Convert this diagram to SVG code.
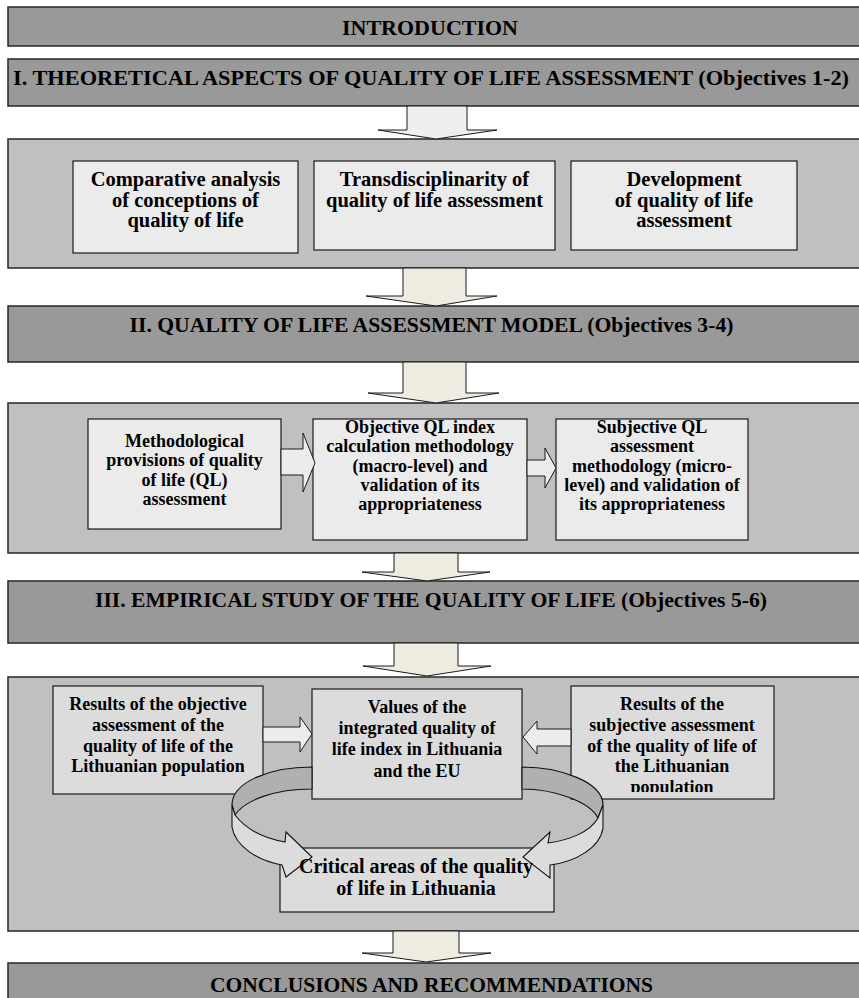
<svg xmlns="http://www.w3.org/2000/svg" width="859" height="998" viewBox="0 0 859 998">
<style>
.hdr{fill:#999999;stroke:#262626;stroke-width:1.5}
.panel{fill:#c0c0c0;stroke:#262626;stroke-width:1.5}
.b1{fill:#ebebeb;stroke:#1a1a1a;stroke-width:1.2}
.b3{fill:#dcdcdc;stroke:#1a1a1a;stroke-width:1.2}
.big{fill:#eeece1;stroke:#1a1a1a;stroke-width:1}
.sm{fill:#ececec;stroke:#1a1a1a;stroke-width:1}
.rd{fill:#b0b0b0;stroke:#111;stroke-width:1.1}
.rl{fill:#dcdcdc;stroke:#111;stroke-width:1.1}
.t{font-family:"Liberation Serif","Times New Roman",serif;font-weight:bold;fill:#000;text-anchor:middle}
.h{font-size:22px}
.p1{font-size:20.5px}
.p2{font-size:18px}
.p3{font-size:18px}
.p4{font-size:20px}
</style>
<defs>
<clipPath id="clipI"><rect x="571" y="686" width="203" height="106"/></clipPath>
</defs>
<g id="intro"><rect class="hdr" x="8" y="7" width="856" height="39"/><text class="t h" x="430" y="34.5" textLength="176" lengthAdjust="spacingAndGlyphs">INTRODUCTION</text></g>
<g id="section1"><rect class="hdr" x="8" y="59" width="856" height="47"/><text class="t h" x="431" y="85" textLength="836" lengthAdjust="spacingAndGlyphs">I. THEORETICAL ASPECTS OF QUALITY OF LIFE ASSESSMENT (Objectives 1-2)</text></g>
<g id="panel1"><rect class="panel" x="8" y="139" width="856" height="129"/></g>
<g id="nodeA"><rect class="b1" x="73" y="161" width="225" height="92"/><text class="t p1" x="185.5" y="186">Comparative analysis</text><text class="t p1" x="185.5" y="206.5">of conceptions of</text><text class="t p1" x="185.5" y="227">quality of life</text></g>
<g id="nodeB"><rect class="b1" x="314" y="161" width="241" height="89"/><text class="t p1" x="434.5" y="186">Transdisciplinarity of</text><text class="t p1" x="434.5" y="206.5">quality of life assessment</text></g>
<g id="nodeC"><rect class="b1" x="571" y="161" width="226" height="89"/><text class="t p1" x="684" y="186">Development</text><text class="t p1" x="684" y="206.5">of quality of life</text><text class="t p1" x="684" y="227">assessment</text></g>
<g id="section2"><rect class="hdr" x="8" y="306" width="856" height="56"/><text class="t h" x="431.5" y="331.5" textLength="604" lengthAdjust="spacingAndGlyphs">II. QUALITY OF LIFE ASSESSMENT MODEL (Objectives 3-4)</text></g>
<g id="panel2"><rect class="panel" x="8" y="403" width="856" height="150"/></g>
<g id="nodeD"><rect class="b1" x="88" y="419" width="193" height="110"/><text class="t p2" x="184.5" y="447">Methodological</text><text class="t p2" x="184.5" y="466">provisions of quality</text><text class="t p2" x="184.5" y="485.5">of life (QL)</text><text class="t p2" x="184.5" y="505">assessment</text></g>
<g id="nodeE"><rect class="b1" x="313" y="419" width="214" height="121"/><text class="t p2" x="420" y="433">Objective QL index</text><text class="t p2" x="420" y="452">calculation methodology</text><text class="t p2" x="420" y="471.5">(macro-level) and</text><text class="t p2" x="420" y="490.5">validation of its</text><text class="t p2" x="420" y="510">appropriateness</text></g>
<g id="nodeF"><rect class="b1" x="556" y="419" width="192" height="121"/><text class="t p2" x="652" y="433">Subjective QL</text><text class="t p2" x="652" y="452">assessment</text><text class="t p2" x="652" y="471.5">methodology (micro-</text><text class="t p2" x="652" y="490.5">level) and validation of</text><text class="t p2" x="652" y="510">its appropriateness</text></g>
<g id="section3"><rect class="hdr" x="8" y="581" width="856" height="62"/><text class="t h" x="431" y="607" textLength="672" lengthAdjust="spacingAndGlyphs">III. EMPIRICAL STUDY OF THE QUALITY OF LIFE (Objectives 5-6)</text></g>
<g id="panel3"><rect class="panel" x="8" y="677" width="856" height="254"/></g>
<g id="nodeG"><rect class="b3" x="53" y="686" width="210" height="108"/><text class="t p3" x="158" y="710">Results of the objective</text><text class="t p3" x="158" y="731">assessment of the</text><text class="t p3" x="158" y="752">quality of life of the</text><text class="t p3" x="158" y="772">Lithuanian population</text></g>
<g id="nodeH"><rect class="b3" x="312" y="689" width="210" height="110"/><text class="t p3" x="417" y="713">Values of the</text><text class="t p3" x="417" y="734">integrated quality of</text><text class="t p3" x="417" y="755">life index in Lithuania</text><text class="t p3" x="417" y="777">and the EU</text></g>
<g id="nodeI"><rect class="b3" x="571" y="686" width="203" height="113"/><g clip-path="url(#clipI)"><text class="t p3" x="672" y="710">Results of the</text><text class="t p3" x="672" y="731">subjective assessment</text><text class="t p3" x="672" y="752">of the quality of life of</text><text class="t p3" x="672" y="772">the Lithuanian</text><text class="t p3" x="672" y="793">population</text></g></g>
<g id="nodeJ"><rect class="b3" x="280" y="848" width="274" height="64"/></g>
<g id="section4"><rect class="hdr" x="8" y="963" width="856" height="45"/><text class="t h" x="431.5" y="992" textLength="443" lengthAdjust="spacingAndGlyphs">CONCLUSIONS AND RECOMMENDATIONS</text></g>
<g id="connectors">
<path d="M407,106 L467,106 L467,130 L497,130 L436,139 L378,130 L407,130 Z" fill="#efefef" stroke="#1a1a1a" stroke-width="1"/>
<path class="big" d="M403,268 L466,268 L466,296 L497,296 L436,306 L366,296 L403,296 Z"/>
<path class="big" d="M403,362 L466,362 L466,393 L499,393 L436,403 L368,393 L403,393 Z"/>
<path class="sm" d="M281,449 L303,449 L303,433 L315,463 L303,492 L303,475 L281,475 Z"/>
<path class="sm" d="M527,460 L545,460 L545,448 L556,468 L545,488 L545,476 L527,476 Z"/>
<path class="big" d="M394,553 L458,553 L458,572 L490,572 L427,581 L362,572 L394,572 Z"/>
<path class="big" d="M394,643 L458,643 L458,666 L491,666 L427,676 L363,666 L394,666 Z"/>
<path class="sm" d="M263,727 L300,727 L300,717 L312,734 L300,752 L300,742 L263,742 Z"/>
<path class="sm" d="M571,729 L537,729 L537,721 L523,737 L537,754 L537,746 L571,746 Z"/>
<path class="rd" d="M312,767 C270,767 232,782 232,805 L235,815 C245,800 275,789 312,789 Z"/>
<path class="rl" d="M232,805 L232,827 C235,845 255,860 282,865 L286,877 L312,857 L286,832 L285,842 C262,838 245,828 235,815 Z"/>
<path class="rd" d="M522,767 C560,767 603,782 603,805 L598,818 C590,802 555,789 522,789 Z"/>
<path class="rl" d="M603,805 L603,828 C600,848 575,862 550,865 L550,878 L523,857 L550,832 L548,843 C570,840 590,832 598,818 Z"/>
<path class="big" d="M393,931 L459,931 L459,953 L491,953 L426,962 L362,953 L393,953 Z"/>
</g>
<g id="nodeJ-label"><text class="t p4" x="416" y="873">Critical areas of the quality</text><text class="t p4" x="416" y="895">of life in Lithuania</text></g>
</svg>
